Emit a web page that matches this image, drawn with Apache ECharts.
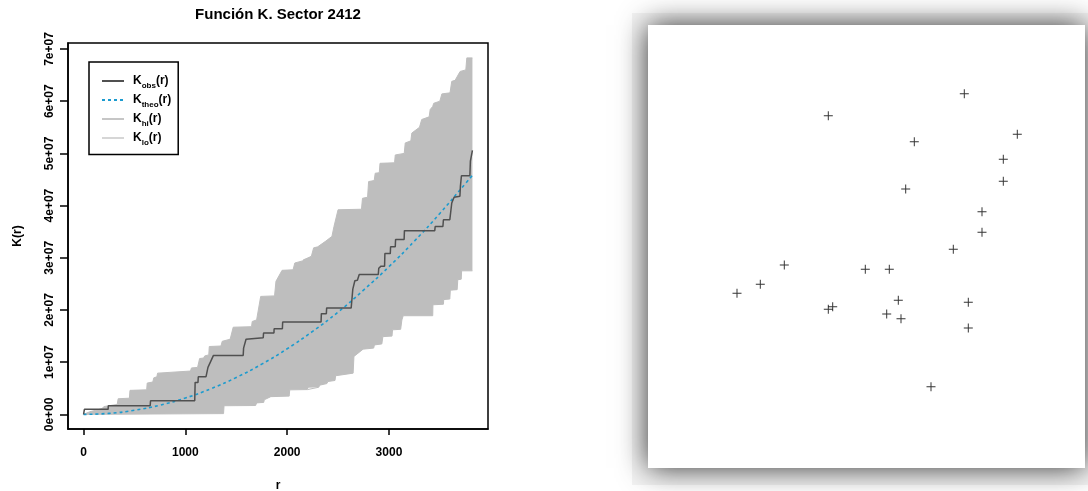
<!DOCTYPE html>
<html>
<head>
<meta charset="utf-8">
<script src="https://cdn.jsdelivr.net/npm/echarts@6/dist/echarts.min.js"></script>
<style>
html,body{margin:0;padding:0;background:#fff;}
#chart{width:1088px;height:491px;}
</style>
</head>
<body>
<div id="chart"></div>
<script>
// ---- data ----
const chartTitle = 'Función K. Sector 2412';
const xTickValues = [0, 1000, 2000, 3000];
const xTickLabels = ['0', '1000', '2000', '3000'];
const yTickValues = [0, 1e7, 2e7, 3e7, 4e7, 5e7, 6e7, 7e7];
const yTickLabels = ['0e+00', '1e+07', '2e+07', '3e+07', '4e+07', '5e+07', '6e+07', '7e+07'];
const legendNames = ['Kobs(r)', 'Ktheo(r)', 'Khi(r)', 'Klo(r)'];
const legendSubs = ['obs', 'theo', 'hi', 'lo'];

// observed K(r): [r, K]
const obsPts = [
  [0,0],[8,0.96e6],[241,0.96e6],[243,1.66e6],[654,1.66e6],[658,2.62e6],[1092,2.62e6],[1096,6.13e6],
  [1124,6.13e6],[1127,7.22e6],[1203,7.22e6],[1222,9.0e6],[1235,9.2e6],[1276,11.3e6],[1568,11.3e6],
  [1572,12.7e6],[1590,12.9e6],[1596,14.4e6],[1765,14.7e6],[1768,15.6e6],[1870,15.6e6],[1872,16.4e6],
  [1953,16.4e6],[1956,17.7e6],[2333,17.7e6],[2336,19.3e6],[2385,19.3e6],[2388,20.4e6],[2629,20.4e6],
  [2645,24.0e6],[2665,25.6e6],[2690,25.7e6],[2708,26.8e6],[2895,26.8e6],[2900,28.0e6],[2922,28.4e6],
  [2957,28.4e6],[2960,30.8e6],[3013,30.8e6],[3016,32.1e6],[3062,32.1e6],[3065,33.5e6],[3149,33.5e6],
  [3152,35.2e6],[3450,35.2e6],[3454,36.0e6],[3530,36.0e6],[3535,37.3e6],[3598,37.3e6],[3617,40.5e6],
  [3640,41.6e6],[3652,41.8e6],[3697,41.8e6],[3702,43.7e6],[3712,45.7e6],[3795,45.7e6],[3800,48.5e6],
  [3815,48.7e6],[3820,50.6e6]
];
// theoretical K(r)
const theoPts = [
  [0,0],[250,0.20e6],[500,0.79e6],[750,1.77e6],[1000,3.14e6],[1250,4.91e6],[1500,7.07e6],[1750,9.62e6],
  [2000,12.57e6],[2250,15.9e6],[2500,19.6e6],[2750,23.8e6],[3000,28.3e6],[3250,33.2e6],[3500,38.5e6],
  [3750,44.2e6],[3820,45.8e6]
];
// upper envelope
const hiPts = [
  [0,0],[60,0.5e6],[180,1.1e6],[200,1.5e6],[330,1.9e6],[340,3.0e6],[450,3.1e6],[456,4.6e6],[620,4.7e6],
  [625,6.0e6],[680,6.2e6],[690,7.0e6],[720,7.2e6],[727,7.9e6],[1050,8.3e6],[1060,8.9e6],[1120,9.0e6],
  [1140,10.7e6],[1180,10.8e6],[1190,11.2e6],[1230,11.4e6],[1235,13.0e6],[1350,13.1e6],[1362,14.0e6],
  [1440,14.4e6],[1470,16.7e6],[1650,16.8e6],[1657,17.8e6],[1700,18.1e6],[1740,22.6e6],[1876,22.7e6],
  [1890,25.5e6],[1950,27.6e6],[2058,27.7e6],[2075,29.0e6],[2150,29.4e6],[2160,29.7e6],[2238,30.3e6],
  [2260,31.9e6],[2300,32.1e6],[2380,33.2e6],[2440,34.1e6],[2460,36.0e6],[2500,39.2e6],[2730,39.3e6],
  [2740,41.4e6],[2790,41.6e6],[2800,44.6e6],[2855,44.8e6],[2865,46.2e6],[2905,46.3e6],[2912,48.1e6],
  [3055,48.2e6],[3062,49.7e6],[3150,50.0e6],[3160,52.0e6],[3215,52.4e6],[3225,53.9e6],[3300,55.0e6],
  [3322,56.5e6],[3395,57.0e6],[3405,58.4e6],[3430,59.0e6],[3440,59.6e6],[3500,60.0e6],[3520,61.4e6],
  [3600,61.6e6],[3617,63.8e6],[3650,64.0e6],[3699,65.7e6],[3755,66.0e6],[3765,68.3e6],[3820,68.3e6]
];
// lower envelope
const loPts = [
  [0,0],[1375,0.15e6],[1380,1.66e6],[1690,1.7e6],[1700,2.2e6],[1770,2.3e6],[1775,2.8e6],[1840,3.4e6],
  [2020,3.5e6],[2025,4.7e6],[2200,4.75e6],[2210,5.1e6],[2310,5.2e6],[2320,5.6e6],[2390,5.9e6],[2400,6.3e6],
  [2470,6.5e6],[2476,7.4e6],[2648,7.9e6],[2656,11.1e6],[2746,12.5e6],[2850,12.7e6],[2857,13.3e6],
  [2930,13.5e6],[2940,14.9e6],[3030,15.0e6],[3035,16.2e6],[3115,16.3e6],[3127,18.1e6],[3140,18.9e6],
  [3430,18.9e6],[3432,21.0e6],[3535,21.1e6],[3538,22.0e6],[3598,22.1e6],[3603,23.8e6],[3670,23.9e6],
  [3676,25.8e6],[3710,25.9e6],[3714,27.5e6],[3820,27.5e6]
];
// point pattern (right panel), coordinates inside the window
const patternX = [316.3,180.3,369.3,266.3,355.3,355.3,257.7,334,334,305.3,136.3,217.3,241.3,112.3,89,250.3,320.3,184.7,180.3,238.7,253,320.3,283];
const patternY = [374.3,352.3,333.7,326.3,308.7,286.7,279,256.3,235.7,218.7,203,198.7,198.7,183.7,174.7,167.7,165.7,161.3,158.7,154,149.3,140,81.3];

// ---- chart ----
const FONT = '"Liberation Sans", Arial, Helvetica, sans-serif';
const chart = echarts.init(document.getElementById('chart'), null, {renderer: 'canvas'});

const patternData = patternX.map((x, i) => [x, patternY[i]]);
const plusPath = 'path://M4.45,0h1.1v4.45h4.45v1.1h-4.45v4.45h-1.1v-4.45h-4.45v-1.1h4.45z';

const option = {
  animation: false,
  backgroundColor: '#ffffff',
  graphic: [
    {type: 'rect', z: -1, silent: true, shape: {x: 632, y: 13, width: 456, height: 472}, style: {fill: '#f4f4f4'}}
  ],
  title: {
    text: chartTitle,
    left: 278, top: 7, textAlign: 'center', padding: 0,
    textStyle: {fontFamily: FONT, fontSize: 15, fontWeight: 'bold', color: '#000'}
  },
  legend: {
    data: [
      {name: legendNames[0]},
      {name: legendNames[1]},
      {name: legendNames[2], lineStyle: {color: '#c6c6c6'}},
      {name: legendNames[3], lineStyle: {color: '#d6d6d6'}}
    ],
    orient: 'vertical',
    left: 89, top: 62,
    padding: [13, 7, 8, 12],
    itemWidth: 22, itemHeight: 14, itemGap: 4.5,
    borderColor: '#000', borderWidth: 1.5, borderRadius: 0,
    backgroundColor: '#fff',
    itemStyle: {color: 'rgba(0,0,0,0)', borderWidth: 0, borderColor: 'rgba(0,0,0,0)'},
    formatter: function (name) {
      const sub = legendSubs[legendNames.indexOf(name)];
      return '{k|K}{s|' + sub + '}{k|(r)}';
    },
    textStyle: {
      fontFamily: FONT, fontWeight: 'bold', color: '#000',
      rich: {
        k: {fontFamily: FONT, fontSize: 12, fontWeight: 'bold', color: '#000'},
        s: {fontFamily: FONT, fontSize: 8, fontWeight: 'bold', color: '#000', padding: [9, 0, 0, 0]}
      },
      padding: [0, 0, 0, 4]
    },
    selectedMode: false
  },
  grid: [
    {left: 68, top: 43, width: 420, height: 386, show: true, borderColor: '#000', borderWidth: 1.5,
     backgroundColor: 'transparent', outerBoundsMode: 'none', containLabel: false},
    {left: 648, top: 25, width: 437, height: 443, show: true, borderWidth: 0, backgroundColor: '#ffffff',
     outerBoundsMode: 'none', containLabel: false,
     shadowBlur: 28, shadowColor: 'rgba(0,0,0,0.8)', shadowOffsetX: 0, shadowOffsetY: 0}
  ],
  xAxis: [
    {
      type: 'value', gridIndex: 0, min: -153, max: 3973,
      name: 'r', nameLocation: 'middle', nameGap: 51, nameMoveOverlap: false,
      nameTextStyle: {fontFamily: FONT, fontSize: 12, fontWeight: 'bold', color: '#000'},
      axisLine: {show: true, onZero: false, lineStyle: {color: '#000', width: 1.5}},
      axisTick: {show: true, inside: false, customValues: xTickValues, length: 6, lineStyle: {color: '#000', width: 1.5}},
      axisLabel: {show: true, customValues: xTickValues, margin: 18,
        formatter: v => xTickLabels[xTickValues.indexOf(v)],
        fontFamily: FONT, fontSize: 12, fontWeight: 'bold', color: '#000'},
      splitLine: {show: false}
    },
    {type: 'value', gridIndex: 1, min: 0, max: 437, show: false, splitLine: {show: false}}
  ],
  yAxis: [
    {
      type: 'value', gridIndex: 0, min: -2.8e6, max: 7.115e7,
      name: 'K(r)', nameLocation: 'middle', nameGap: 44, nameRotate: 90, nameMoveOverlap: false,
      nameTextStyle: {fontFamily: FONT, fontSize: 12, fontWeight: 'bold', color: '#000'},
      axisLine: {show: true, onZero: false, lineStyle: {color: '#000', width: 1.5}},
      axisTick: {show: true, inside: false, customValues: yTickValues, length: 8, lineStyle: {color: '#000', width: 1.5}},
      axisLabel: {show: true, customValues: yTickValues, margin: 12, rotate: 90,
        formatter: v => yTickLabels[yTickValues.indexOf(v)],
        fontFamily: FONT, fontSize: 12, fontWeight: 'bold', color: '#000'},
      splitLine: {show: false}
    },
    {type: 'value', gridIndex: 1, min: 0, max: 443, show: false, splitLine: {show: false}}
  ],
  series: [
    {
      name: 'band', type: 'custom', xAxisIndex: 0, yAxisIndex: 0, silent: true, z: 1,
      data: [[0, 0]],
      renderItem: function (params, api) {
        const pts = hiPts.map(p => api.coord(p)).concat(loPts.slice().reverse().map(p => api.coord(p)));
        return {type: 'polygon', shape: {points: pts}, style: {fill: '#bebebe', stroke: null}};
      }
    },
    {name: legendNames[2], type: 'line', xAxisIndex: 0, yAxisIndex: 0, data: hiPts, symbol: 'none', z: 2,
     color: '#bebebe', lineStyle: {color: '#bebebe', width: 1}},
    {name: legendNames[3], type: 'line', xAxisIndex: 0, yAxisIndex: 0, data: loPts, symbol: 'none', z: 2,
     color: '#bebebe', lineStyle: {color: '#bebebe', width: 1}},
    {name: legendNames[1], type: 'line', xAxisIndex: 0, yAxisIndex: 0, data: theoPts, symbol: 'none', smooth: true, z: 3,
     color: '#1b9bcf', lineStyle: {color: '#1b9bcf', width: 1.6, type: [3, 3]}},
    {name: legendNames[0], type: 'line', xAxisIndex: 0, yAxisIndex: 0, data: obsPts, symbol: 'none', z: 4,
     color: '#505050', lineStyle: {color: '#505050', width: 1.5}},
    {name: 'pattern', type: 'scatter', xAxisIndex: 1, yAxisIndex: 1, data: patternData,
     symbol: plusPath, symbolSize: 9, itemStyle: {color: '#000'}, z: 5}
  ]
};
chart.setOption(option);
</script>
</body>
</html>
